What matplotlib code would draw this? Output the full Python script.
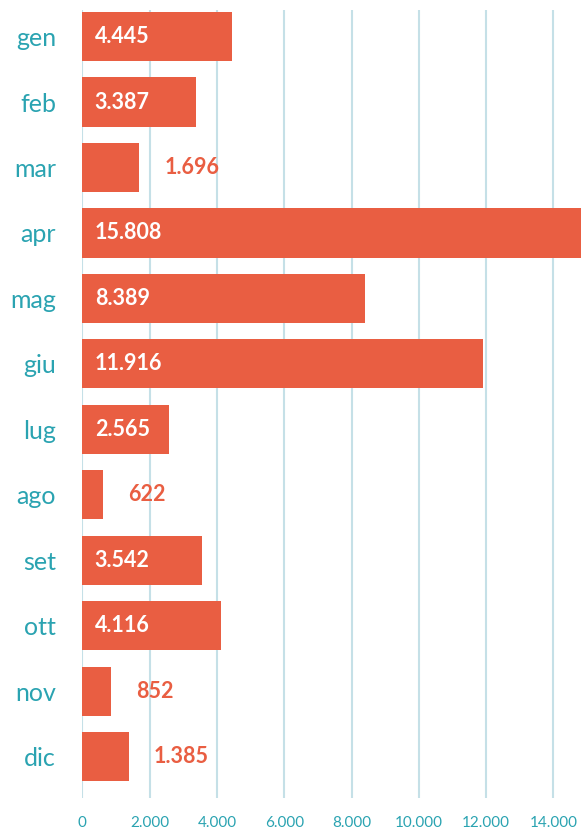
import matplotlib
matplotlib.use("Agg")
import matplotlib.pyplot as plt

# dati mensili
months = ["gen", "feb", "mar", "apr", "mag", "giu", "lug", "ago", "set", "ott", "nov", "dic"]
values = [4445, 3387, 1696, 15808, 8389, 11916, 2565, 622, 3542, 4116, 852, 1385]
labels = ["4.445", "3.387", "1.696", "15.808", "8.389", "11.916", "2.565", "622", "3.542", "4.116", "852", "1.385"]
xticks = [0, 2000, 4000, 6000, 8000, 10000, 12000, 14000]
xticklabels = ["0", "2.000", "4.000", "6.000", "8.000", "10.000", "12.000", "14.000"]

bar_color = "#e95e42"
teal = "#2aa3b1"
grid_color = "#c5e0e7"

plt.rcParams['font.family'] = ['Lato', 'DejaVu Sans']

fig = plt.figure(figsize=(5.81, 8.32), dpi=100)
ax = fig.add_axes([0.1417, 0.0409, 1 - 0.1417, 0.947])

pos = list(range(len(months)))
ax.barh(pos, values, height=0.75, color=bar_color, zorder=3)

# etichette valori: dentro la barra se lunga, fuori se corta
for p, v, lab in zip(pos, values, labels):
    if v >= 2000:
        ax.annotate(lab, (0, p), xytext=(9, 0), textcoords="offset points",
                    va="center", ha="left", color="white", fontsize=15.5,
                    fontweight="bold", zorder=4)
    else:
        ax.annotate(lab, (v, p), xytext=(18, 0), textcoords="offset points",
                    va="center", ha="left", color=bar_color, fontsize=15.5,
                    fontweight="bold", zorder=4)

ax.set_xlim(0, 14820)
ax.set_ylim(11.63, -0.405)
ax.set_xticks(xticks)
ax.set_xticklabels(xticklabels, color=teal, fontsize=11)
ax.set_yticks(pos)
ax.set_yticklabels(months, color=teal, fontsize=18)
ax.tick_params(axis="x", length=0, pad=13)
ax.tick_params(axis="y", length=0, pad=19)

ax.grid(axis="x", color=grid_color, linewidth=1.5, zorder=0)
ax.set_axisbelow(True)
for s in ax.spines.values():
    s.set_visible(False)

fig.savefig("out.png", dpi=100)
